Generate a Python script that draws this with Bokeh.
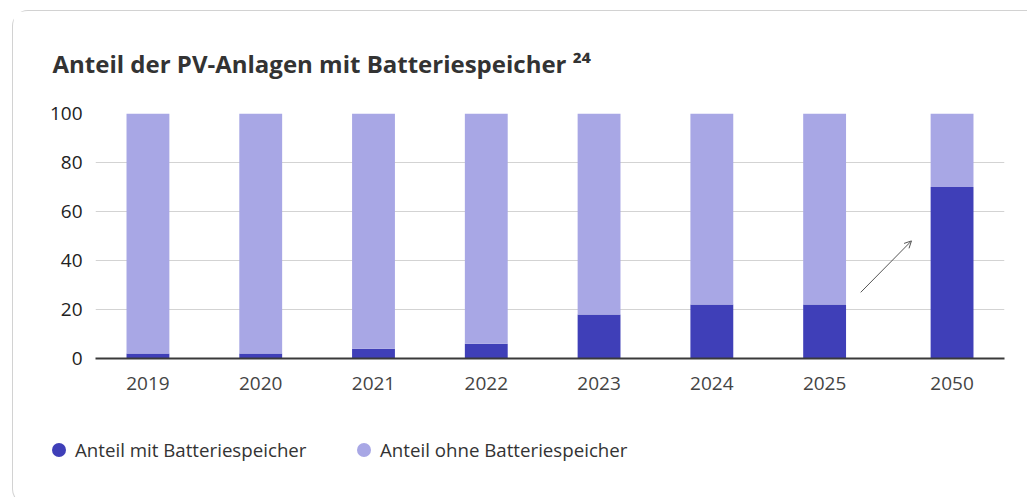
from bokeh.plotting import figure
from bokeh.layouts import column
from bokeh.models import (FactorRange, Range1d, Arrow, OpenHead, ColumnDataSource,
                          FixedTicker, Div)
from bokeh.embed import file_html
from bokeh.resources import INLINE

# ---- data ----
years = ["2019", "2020", "2021", "2022", "2023", "2024", "2025", "2050"]
periods = ["ist", "ist", "ist", "ist", "ist", "ist", "ist", "ziel"]
mit = [2, 2, 4, 6, 18, 22, 22, 70]
ohne = [98, 98, 96, 94, 82, 78, 78, 30]
y_ticks = [0, 20, 40, 60, 80, 100]
title_text = "Anteil der PV-Anlagen mit Batteriespeicher"
footnote = "\u00b2\u2074"  # superscript 24
series_labels = ["Anteil mit Batteriespeicher", "Anteil ohne Batteriespeicher"]

DARK = "#3f3fb8"
LIGHT = "#a8a7e5"
FONT = "Open Sans"
GROUP_PAD = 0.13

factors = list(zip(periods, years))
src = ColumnDataSource(dict(x=factors, mit=mit, ohne=ohne))

p = figure(
    width=1014, height=409,
    x_range=FactorRange(*factors, group_padding=GROUP_PAD, range_padding=-0.035,
                        range_padding_units="absolute"),
    y_range=Range1d(0, 100),
    output_backend="svg", toolbar_location=None,
    min_border_left=82, min_border_right=23, min_border_top=98, min_border_bottom=62,
    background_fill_color="white", border_fill_color="white",
    outline_line_color=None,
)

p.vbar_stack(["mit", "ohne"], x="x", width=0.38, color=[DARK, LIGHT],
             line_color=None, source=src)

# title
p.title.text = title_text + " " + footnote
p.title.text_font = FONT
p.title.text_font_style = "bold"
p.title.text_font_size = "24px"
p.title.text_color = "#333333"
p.title.align = "left"
p.title.offset = -43
p.title.standoff = 67

# axes
p.yaxis.ticker = FixedTicker(ticks=y_ticks)
p.yaxis.axis_line_color = None
p.yaxis.major_tick_line_color = None
p.yaxis.minor_tick_line_color = None
p.yaxis.major_label_text_font = FONT
p.yaxis.major_label_text_font_size = "19px"
p.yaxis.major_label_text_color = "#222222"
p.yaxis.major_label_standoff = 7

p.xaxis.axis_line_color = "#3a3a3a"
p.xaxis.axis_line_width = 2
p.xaxis.major_tick_line_color = None
p.xaxis.minor_tick_line_color = None
p.xaxis.major_label_text_font = FONT
p.xaxis.major_label_text_font_size = "19px"
p.xaxis.major_label_text_color = "#444444"
p.xaxis.major_label_standoff = 12
p.xaxis.group_text_font_size = "0px"
p.xaxis.group_text_color = None
p.xaxis.separator_line_color = None
p.xaxis.major_label_orientation = "horizontal"

p.xgrid.grid_line_color = None
p.ygrid.grid_line_color = "#d3d3d3"
p.ygrid.grid_line_width = 1

# arrow between 2025 and 2050 (categorical coordinates with offsets)
arrow_src = ColumnDataSource(dict(
    xs=[list(factors[6]) + [0.32]], ys=[27],
    xe=[list(factors[6]) + [0.77]], ye=[48]))
p.add_layout(Arrow(end=OpenHead(size=7, line_color="#555555", line_width=1),
                   x_start="xs", y_start="ys", x_end="xe", y_end="ye", source=arrow_src,
                   line_color="#555555", line_width=1))

# legend strip (HTML) below the chart
items_html = ""
for lab, col in zip(series_labels, [DARK, LIGHT]):
    items_html += (
        '<span style="display:inline-flex;align-items:center;width:305px;">'
        f'<span style="display:inline-block;width:14px;height:14px;border-radius:50%;'
        f'background:{col};margin-right:9px;"></span>{lab}</span>'
    )
legend_div = Div(
    width=1014, height=74,
    text=(f'<div style="display:flex;align-items:center;font-family:\'{FONT}\';'
          'font-size:18.7px;color:#333333;padding-left:34px;padding-top:14px;'
          f'line-height:22px;white-space:nowrap;">{items_html}</div>'),
)

card = column(p, legend_div, spacing=0,
              styles={"margin-left": "12px", "margin-top": "10px",
                      "border-left": "1px solid #d2d2d2", "border-top": "1px solid #d2d2d2",
                      "border-bottom": "1px solid #d2d2d2",
                      "border-top-left-radius": "16px",
                      "border-bottom-left-radius": "16px"})

open("out.html", "w").write(file_html(card, INLINE))
